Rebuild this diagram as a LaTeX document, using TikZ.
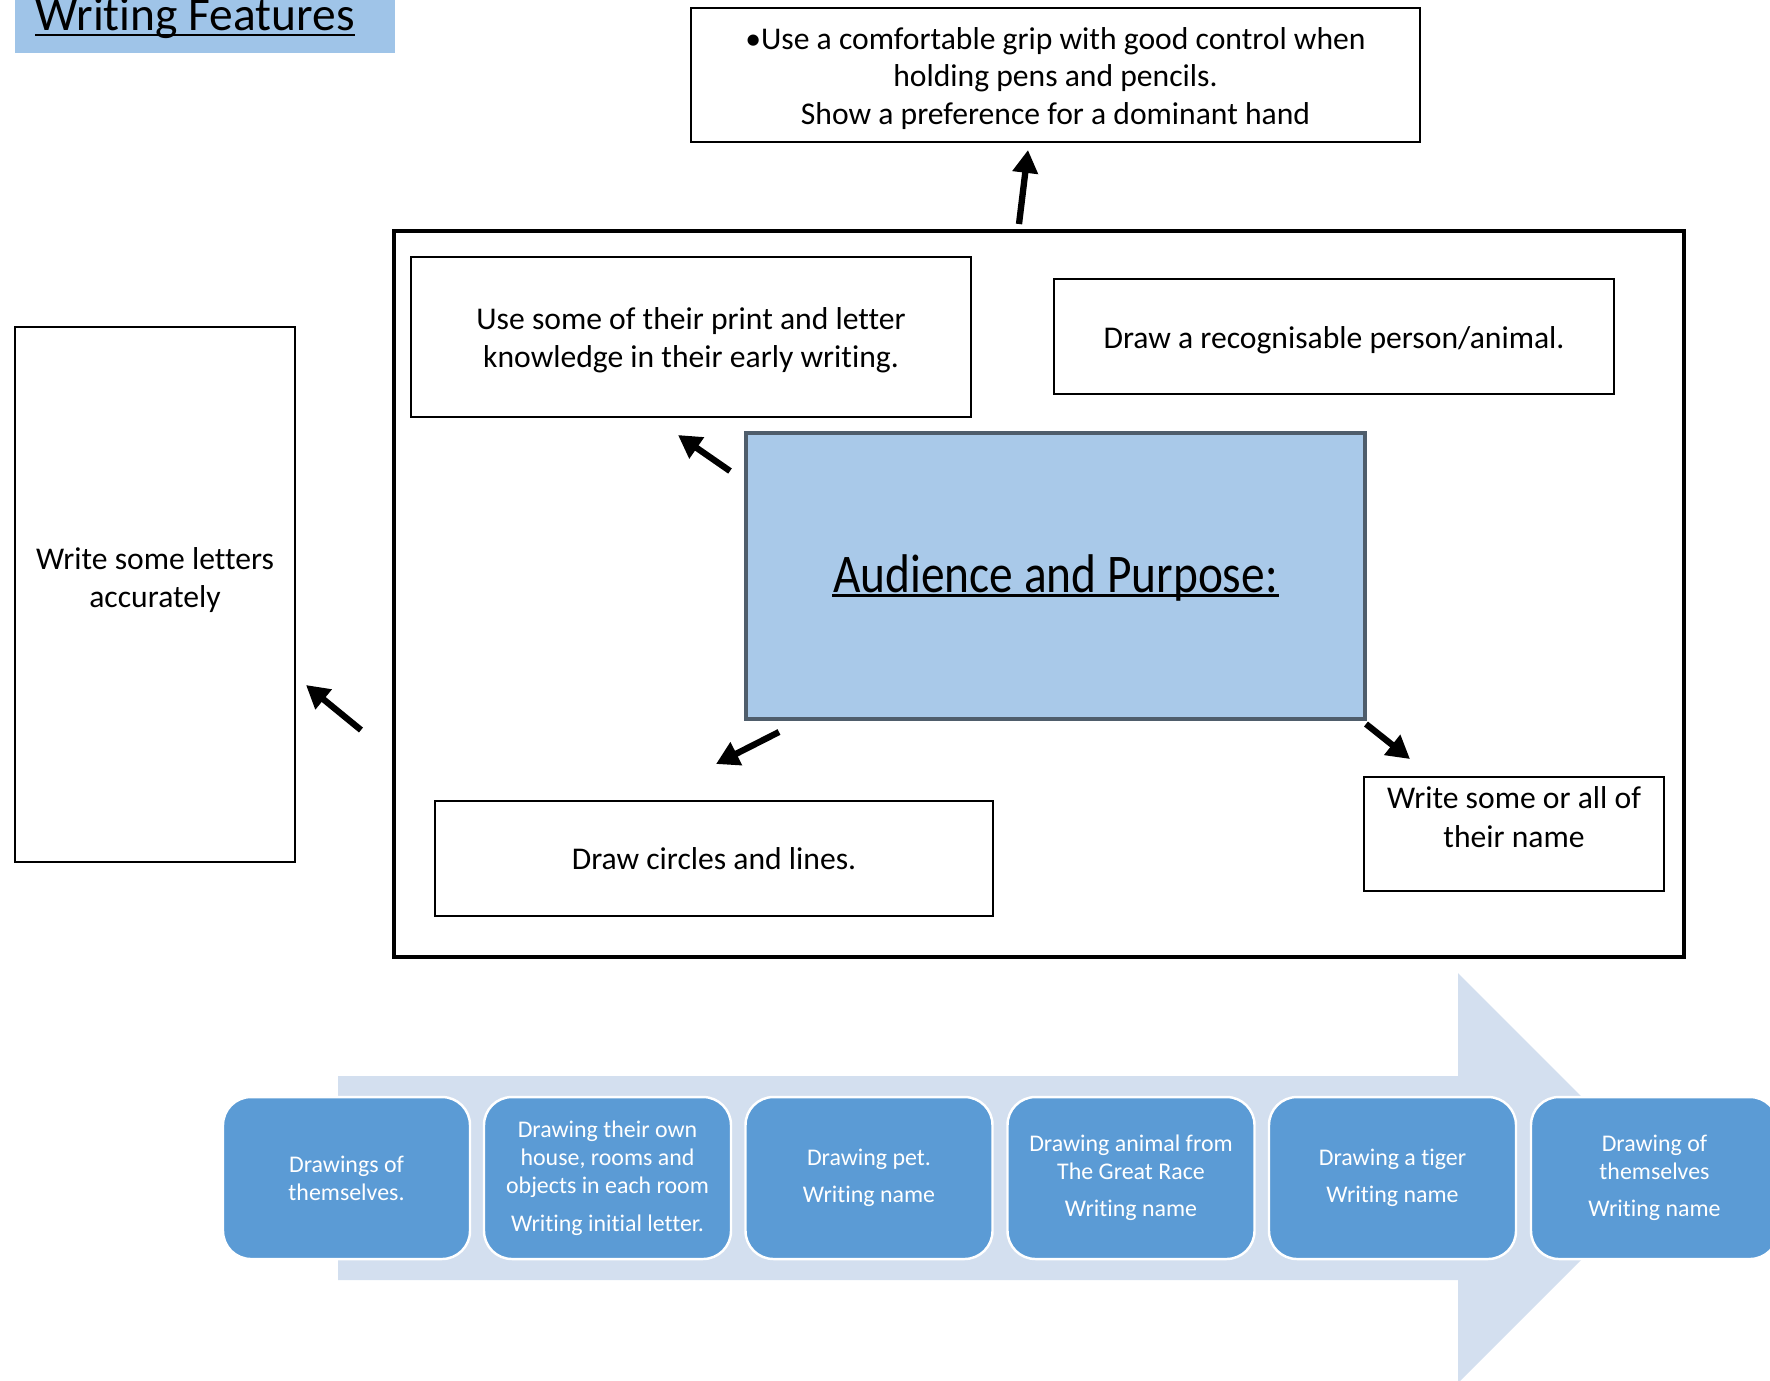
\documentclass[tikz,border=0pt]{standalone}
\usepackage{fontspec}
\setmainfont{Carlito}[Ligatures=NoCommon]
\newfontfamily\headfont[FakeStretch=0.87,Ligatures=NoCommon]{Carlito}
\usetikzlibrary{arrows.meta}

\definecolor{titleblue}{HTML}{9FC4E8}
\definecolor{paleblue}{HTML}{A9C9E9}
\definecolor{edgegrey}{HTML}{4F5D6B}
\definecolor{stageblue}{HTML}{5B9BD5}
\definecolor{flowgrey}{HTML}{D3DFEF}

\begin{document}
\begin{tikzpicture}[x=0.1mm, y=-0.1mm,
  plain box/.style={draw, line width=0.75pt, inner sep=0pt, align=center, font=\fontsize{9}{10.7}\selectfont},
  box text/.style={inner sep=0pt, align=center, font=\fontsize{9}{10.7}\selectfont},
  frame box/.style={draw, line width=1.4pt, inner sep=0pt},
  centre box/.style={draw=edgegrey, fill=paleblue, line width=1.3pt, inner sep=0pt},
  stage node/.style={draw=white, fill=stageblue, line width=0.7pt, rounded corners=2.8mm, text=white, align=center,
    font=\fontsize{6.8}{8}\selectfont, minimum width=24.7mm, minimum height=16.2mm, inner sep=0pt},
  pointer/.style={-{Triangle[length=6.5pt,width=7pt]}, line width=1.8pt}]

  \useasboundingbox (0,0) rectangle (1770,1380);

  % title
  \node[fill=titleblue, minimum width=38mm, minimum height=5.3mm, inner sep=0pt] (title) at (205,26.5) {};
  \node[anchor=base west, inner sep=0pt, font=\fontsize{13.5}{15}\selectfont] (titletext) at (35,30) {Writing Features};
  \draw[line width=0.6pt] ([yshift=-1.4pt]titletext.base west) -- ([yshift=-1.4pt]titletext.base east);

  \node[plain box, minimum width=72.9mm, minimum height=13.4mm] (grip) at (1055.5,75) {};
  \node[box text] (griptext) at ([yshift=-1pt]grip.center)
    {\textbullet Use a comfortable grip with good control when\\holding pens and pencils.\\Show a preference for a dominant hand};

  \node[frame box, minimum width=129mm, minimum height=72.6mm] (frame) at (1039,594) {};
  \node[plain box, minimum width=56mm, minimum height=16mm] (print) at (691,337) {};
  \node[box text] (printtext) at ([yshift=-1pt]print.center) {Use some of their print and letter\\knowledge in their early writing.};
  \node[plain box, minimum width=56mm, minimum height=11.5mm] (person) at (1334,336.5) {};
  \node[box text] (persontext) at ([yshift=-1pt]person.center) {Draw a recognisable person/animal.};
  \node[centre box, minimum width=61.9mm, minimum height=28.6mm] (centre) at (1055.5,576) {};
  \node[anchor=base, inner sep=0pt, font=\headfont\fontsize{15.5}{18}\selectfont] (audience) at (1055.5,592) {Audience and Purpose:};
  \draw[line width=0.9pt] ([yshift=-1pt]audience.base west) -- ([yshift=-1pt]audience.base east);
  \node[plain box, minimum width=55.8mm, minimum height=11.5mm] (circles) at (714,858.5) {Draw circles and lines.};
  \node[plain box, minimum width=30mm, minimum height=11.4mm] (name) at (1514,834) {};
  \node[box text, anchor=north, font=\fontsize{9}{11}\selectfont] (nametext) at (1514,786) {Write some or all of\\their name};

  \node[plain box, minimum width=28mm, minimum height=53.5mm] (letters) at (155,594.5) {};
  \node[box text] (letterstext) at (155,580) {Write some letters\\accurately};

  % arrows
  \coordinate (upfrom) at (1019,224);
  \coordinate (upto) at (1028,150);
  \coordinate (printfrom) at (730,471);
  \coordinate (printto) at (678,435);
  \coordinate (lettersfrom) at (361,730);
  \coordinate (lettersto) at (306,685);
  \coordinate (circlesfrom) at (779,732);
  \coordinate (circlesto) at (716,764);
  \coordinate (namefrom) at (1366,724);
  \coordinate (nameto) at (1410,759);
  \path[] (upfrom) [pointer] edge (upto);
  \path[] (printfrom) [pointer] edge (printto);
  \path[] (lettersfrom) [pointer] edge (lettersto);
  \path[] (circlesfrom) [pointer] edge (circlesto);
  \path[] (namefrom) [pointer] edge (nameto);

  % timeline
  \fill[flowgrey] (338,1076) -- (1458,1076) -- (1458,973) -- (1663,1178) -- (1458,1383) -- (1458,1280) -- (338,1280) -- cycle;
  \node[stage node] (s1) at (346.5,1178) {Drawings of\\themselves.};
  \node[stage node] (s2) at (607.5,1178) {Drawing their own\\house, rooms and\\objects in each room\\[2.6pt]Writing initial letter.};
  \node[stage node] (s3) at (869,1178) {Drawing pet.\\[2.6pt]Writing name};
  \node[stage node] (s4) at (1131,1178) {Drawing animal from\\The Great Race\\[2.6pt]Writing name};
  \node[stage node] (s5) at (1392.5,1178) {Drawing a tiger\\[2.6pt]Writing name};
  \node[stage node] (s6) at (1654.5,1178) {Drawing of\\themselves\\[2.6pt]Writing name};
\end{tikzpicture}
\end{document}
